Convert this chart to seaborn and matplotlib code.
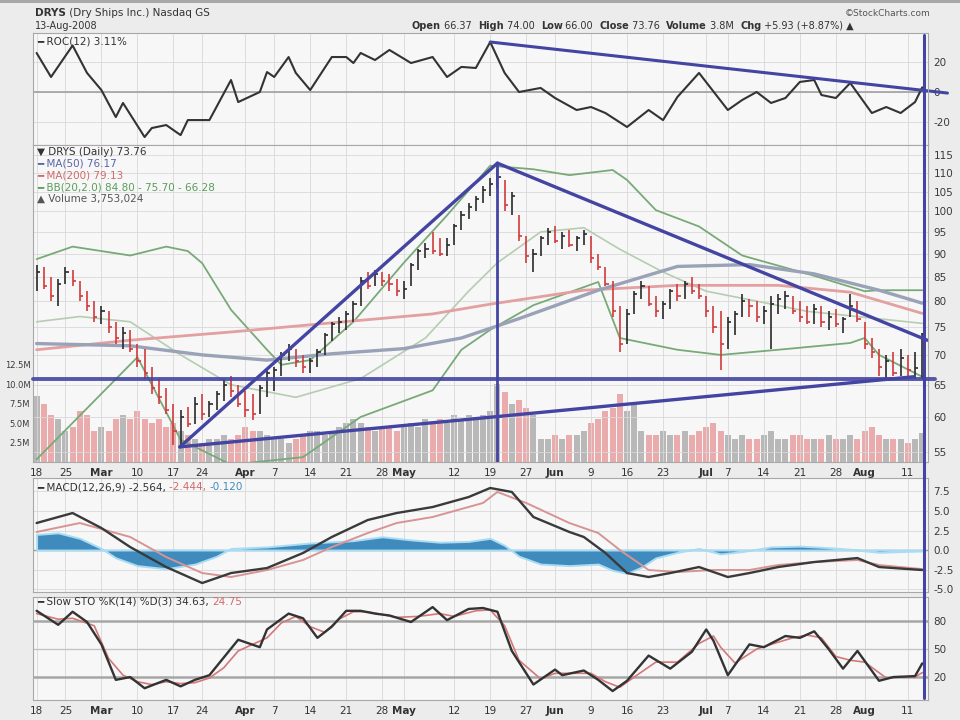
import matplotlib

matplotlib.use("Agg")
import matplotlib.pyplot as plt
import matplotlib.transforms as mtransforms
from matplotlib.lines import Line2D
import numpy as np
import pandas as pd
import seaborn as sns

sns.set_theme(style="white")
plt.rcParams["font.family"] = ["DejaVu Sans"]

W, H = 960, 720
LEFT, RIGHT = 33, 928

# trading days on the chart, 19-Feb-2008 .. 13-Aug-2008
HOLIDAYS = ["2008-03-21", "2008-05-26", "2008-07-04"]
days = pd.bdate_range("2008-02-19", "2008-08-13")
days = days[~days.isin(pd.to_datetime(HOLIDAYS))]

TICK_DATES = ["2008-02-19", "2008-02-25", "2008-03-03", "2008-03-10", "2008-03-17",
              "2008-03-24", "2008-04-01", "2008-04-07", "2008-04-14", "2008-04-21",
              "2008-04-28", "2008-05-01", "2008-05-12", "2008-05-19", "2008-05-27",
              "2008-06-02", "2008-06-09", "2008-06-16", "2008-06-23", "2008-07-01",
              "2008-07-07", "2008-07-14", "2008-07-21", "2008-07-28", "2008-08-01",
              "2008-08-11"]
TICK_TEXT = ["18", "25", "Mar", "10", "17", "24", "Apr", "7", "14", "21", "28", "May",
             "12", "19", "27", "Jun", "9", "16", "23", "Jul", "7", "14", "21", "28",
             "Aug", "11"]

# daily bars
HIGH = [87.5, 87, 85, 84.5, 87, 86.5, 84, 82, 80, 79,
        78, 76, 75, 74.5, 72, 71, 68, 66, 64.5, 62,
        61, 61.5, 63, 63.5, 62.5, 64, 66, 66.5, 65, 64,
        63.5, 65, 67.5, 68, 70.5, 72, 71, 70, 69.5, 71,
        74, 76, 77, 78, 80, 85, 86, 86.5, 86, 85.5,
        84.5, 84, 88, 91, 92.5, 95, 93.5, 93.5, 97, 100,
        102, 104, 106.5, 108.5, 111, 108, 105, 99, 94, 91,
        94, 96, 96.5, 95, 95.5, 94, 95.5, 94, 90, 87,
        84, 79, 78.5, 82, 84, 83, 81, 80, 82.5, 83.5,
        84, 85, 83.5, 81, 79, 78, 77, 78, 81.5, 80.5,
        80, 79, 81, 81.5, 82, 81, 80, 79, 79.5, 79,
        78, 78.5, 77, 81.5, 80, 76, 73, 71, 70, 70.5,
        71, 70, 70.5, 74]
LOW = [82, 82.5, 80, 79, 83.5, 83, 80, 78, 76, 75.5,
       74, 72, 71, 70.5, 68, 66, 63.5, 62, 60.5, 56,
       56, 58.5, 59, 59.5, 60, 61, 62.5, 63, 61.5, 60,
       59.5, 60.5, 63, 64, 66.5, 69, 68, 67, 67, 68,
       70, 72.5, 74, 74.5, 76, 79, 82.5, 83, 83, 82,
       81, 80.5, 83, 86.5, 89, 90, 89.5, 89.5, 92, 95.5,
       98, 100, 102, 104, 106, 100, 99, 93, 88, 86,
       89.5, 92, 92.5, 91, 91.5, 90.5, 92, 88, 86.5, 83,
       77, 70.5, 72, 77.5, 80.5, 79, 77, 76.5, 78.5, 80,
       80.5, 81.5, 80.5, 77, 74, 67.5, 71, 73.5, 77, 77,
       76, 75.5, 71, 77.5, 78.5, 77.5, 76, 75.5, 75.5, 75,
       74.5, 75, 74, 77, 76, 71, 69.5, 66.5, 66, 66.5,
       66.5, 66, 66, 66]
CLOSE = [86, 83, 81, 83.5, 86, 84, 81, 79, 77, 78,
         75, 73, 74, 71, 69, 67, 64.5, 63, 61, 58,
         60, 59, 62, 60.5, 62, 63.5, 65, 64, 62, 61,
         60.5, 64.5, 67, 67.5, 70, 71, 69, 68, 69, 70.5,
         73.5, 75.5, 76, 77.5, 79.5, 84, 83, 85.5, 84, 83.5,
         82, 82.5, 87.5, 90.5, 91, 90.5, 90, 92, 96.5, 99,
         101, 103, 105.5, 107, 109, 101.5, 104, 94, 89.5, 90,
         93.5, 95, 93, 94, 92, 93.5, 94.5, 89, 87, 83.5,
         78, 72, 77.5, 81.5, 83, 79.5, 78, 79.5, 82, 81,
         83.5, 82, 81, 78, 75, 72, 76, 77.5, 80, 79,
         77, 78, 79.5, 80.5, 81, 78, 77, 76, 78.5, 76,
         77, 75.5, 76.5, 79, 76.5, 72, 70.5, 68, 69, 67,
         69.5, 67.5, 67.83, 73.76]
VOLUME_M = [8.5, 7.5, 6, 5.5, 4, 4.5, 6.5, 6, 4, 4.5,
            4, 5.5, 6, 5.5, 6.5, 5.5, 5, 5.5, 4.5, 5,
            4, 3.5, 3, 2.5, 3, 3, 3.5, 3, 3.5, 4.5,
            4, 4, 3.5, 3, 3, 2.5, 3, 3.5, 4, 4,
            3.5, 4, 4.5, 5, 5.5, 5, 4.5, 4, 4.5, 4.5,
            4, 4.5, 5, 4.5, 5.5, 5, 5.5, 5, 6, 5.5,
            6, 5.5, 6, 6.5, 10, 9, 7.5, 8, 7, 6,
            3, 3, 3.5, 3, 3.5, 3.5, 4, 5, 5.5, 6.5,
            7, 8.7, 6.5, 7.5, 4, 3.5, 3.5, 4, 3.5, 3.5,
            4, 3.5, 4, 4.5, 5, 4, 3.5, 3, 3.5, 3,
            3, 3.5, 4, 3, 3, 3.5, 3.5, 3, 3, 3,
            3.5, 3, 3, 3.5, 3, 4, 4.5, 3.5, 3, 3,
            3, 2.5, 3, 3.75]

# price overlays (day index, price)
MA50_DAY = [0, 13, 23, 32, 41, 51, 59, 67, 78, 89, 99, 108, 117, 123]
MA50 = [72.0, 71.6, 70.0, 69.1, 70.2, 71.1, 73.0, 76.6, 82.2, 87.2, 87.6, 85.6, 82.2, 79.6]
MA200_DAY = [0, 13, 27, 41, 55, 63, 76, 89, 103, 113, 123]
MA200 = [70.9, 72.6, 74.1, 75.8, 77.5, 79.4, 82.2, 83.2, 83.2, 81.8, 77.6]
BB_UP_DAY = [0, 5, 13, 18, 21, 23, 27, 32, 34, 38, 44, 51, 57, 63, 69, 74, 80, 82, 86, 92,
             98, 108, 115, 117, 123]
BB_UP = [88.8, 91.6, 89.6, 91.6, 90.6, 87.9, 78.3, 70.9, 68.3, 69.1, 76, 88, 99, 112, 111,
         109.4, 110.8, 108.1, 100.3, 96.3, 89.6, 85.2, 82.0, 82.2, 82.2]
BB_MID_DAY = [0, 6, 13, 20, 27, 36, 45, 54, 60, 64, 70, 76, 81, 87, 93, 100, 107, 114, 123]
BB_MID = [76, 77, 76, 70, 65, 63, 66, 73, 82, 88, 95, 96, 91, 86, 82, 80, 78, 77, 75.7]
BB_LOW_DAY = [0, 14, 20, 27, 37, 45, 55, 59, 63, 69, 78, 81, 89, 95, 103, 113, 115, 117, 123]
BB_LOW = [54.0, 69.6, 56.7, 53.3, 54.3, 60.0, 64.1, 70.9, 74.5, 79.2, 83.9, 73.0, 70.9, 70.0,
          70.9, 72.1, 73.0, 70.0, 66.3]

# hand-drawn trend lines (day index, price)
TREND_DAYS = [(19.9, 64.0), (64.0, 123.7), (19.9, 121.8)]
TREND_PRICES = [(55.7, 112.7), (112.7, 72.6), (55.7, 66.3)]
SUPPORT_DAYS = (-0.5, 124.8)
SUPPORT_PRICE = 66.0
PEAK_DAY, PEAK_PRICE = 64.0, 112.7
TODAY_X = 123.3

# ROC(12)
ROC_DAY = [0, 2, 5, 7, 9, 11, 12, 15, 16, 18, 20, 21, 24, 27, 28, 31, 32, 33, 35, 36,
           38, 41, 43, 44, 45, 47, 49, 52, 55, 57, 59, 61, 63, 65, 67, 70, 72, 75, 77, 79,
           82, 85, 87, 89, 92, 96, 98, 100, 102, 104, 106, 108, 109, 111, 113, 116, 118,
           120, 122, 123]
ROC_VAL = [26, 10, 31, 12.7, 1.3, -16.7, -7.3, -30, -24, -22, -28.7, -18.7, -18.7, 8, -6.7,
           0, 13.3, 10, 23.3, 12.7, 1.3, 23.3, 23.3, 19.3, 26, 21.3, 28, 19.3, 23.3, 10,
           16.7, 16, 33.3, 12.7, 0, 2.7, -4, -12, -10, -14, -23.3, -12, -18.7, -3.3, 12.7,
           -12, -5.3, 0, -7.3, -4, 6.7, 8, -2, -4, 6, -14, -10, -14, -6.7, 3.11]
ROC_TREND_DAY = [63.0, 126.5]
ROC_TREND_VAL = [33.3, -0.7]

# MACD(12,26,9)
MACD_DAY = [0, 5, 9, 13, 18, 23, 27, 32, 37, 41, 46, 50, 55, 60, 63, 66, 69, 74, 76, 79,
            82, 85, 88, 92, 96, 99, 103, 108, 114, 117, 123]
MACD_VAL = [3.46, 4.74, 2.82, 0.38, -2.18, -4.23, -2.95, -2.31, -0.38, 1.67, 3.85, 4.74,
            5.51, 6.79, 7.95, 7.44, 4.23, 2.31, 1.67, -0.38, -2.95, -3.46, -2.95, -2.18,
            -3.46, -2.95, -2.18, -1.54, -1.03, -2.18, -2.564]
SIGNAL_DAY = [0, 6, 13, 18, 23, 27, 32, 37, 41, 46, 50, 55, 62, 64, 68, 74, 78, 81, 85, 89,
              94, 99, 103, 108, 114, 117, 123]
SIGNAL_VAL = [2.31, 3.46, 1.67, -0.9, -2.95, -3.46, -2.56, -1.28, 0.38, 2.18, 3.46, 4.23,
              6.03, 7.44, 6.03, 3.46, 2.18, 0, -2.56, -2.82, -2.56, -2.56, -1.92, -1.54,
              -1.28, -1.92, -2.444]
HIST_DAY = [0, 3, 6, 9, 11, 14, 18, 22, 25, 27, 32, 38, 44, 48, 52, 56, 60, 63, 65, 67,
            70, 74, 78, 80, 82, 84, 86, 89, 92, 95, 98, 102, 106, 110, 113, 117, 120, 123]
HIST_VAL = [2.0, 2.2, 1.5, 0.2, -1.0, -2.0, -2.4, -1.8, -0.8, 0.2, 0.4, 0.9, 1.2, 1.7, 1.3,
            1.0, 1.1, 1.5, 0.6, -0.8, -1.8, -2.0, -1.8, -2.6, -3.0, -2.2, -1.0, -0.3, 0.2,
            -0.5, -0.2, 0.4, 0.5, 0.3, 0.1, -0.3, -0.2, -0.12]

# Slow stochastics %K(14) %D(3)
STO_K_DAY = [0, 3, 5, 7, 9, 11, 13, 15, 17, 18, 20, 22, 24, 26, 28, 31, 32, 35, 37, 39,
             41, 43, 45, 47, 49, 52, 55, 57, 60, 62, 64, 66, 69, 72, 73, 76, 78, 80, 82, 85,
             88, 91, 93, 94, 96, 99, 101, 104, 106, 108, 110, 112, 114, 117, 119, 122, 123]
STO_K = [91, 76, 90, 79, 55, 17, 20, 8, 14, 17, 10, 17, 22, 41, 60, 52, 71, 88, 83, 62,
         74, 91, 91, 88, 86, 79, 95, 81, 93, 94, 90, 48, 12, 28, 22, 27, 17, 5, 16, 43,
         29, 47, 71, 59, 22, 55, 52, 64, 62, 69, 50, 29, 48, 16, 20, 21, 34.63]
STO_D_DAY = [0, 3, 5, 8, 10, 12, 14, 16, 18, 20, 22, 24, 26, 28, 30, 32, 34, 36, 38, 40,
             42, 44, 46, 48, 50, 53, 56, 58, 61, 63, 65, 67, 70, 72, 74, 77, 79, 81, 83, 86,
             89, 92, 94, 95, 97, 100, 102, 105, 107, 109, 111, 113, 115, 118, 120, 122, 123]
STO_D = [88, 82, 83, 75, 40, 22, 15, 12, 15, 13, 14, 19, 30, 48, 55, 62, 78, 85, 74, 68,
         82, 90, 90, 87, 84, 85, 88, 85, 91, 92, 75, 38, 18, 24, 24, 24, 15, 9, 20, 36,
         36, 56, 64, 52, 35, 50, 55, 62, 65, 62, 42, 38, 36, 19, 20, 20, 24.75]

FIG_BG = "#ececec"
PANEL_BG = "#f7f7f7"
GRID = "#d8d8d8"
TREND = "#4444a2"
INK = "#333333"


def panel(top, bottom):
    return fig.add_axes([LEFT / W, 1 - bottom / H, (RIGHT - LEFT) / W, (bottom - top) / H])


def chain(x, y, parts, size):
    # lay text pieces one after another on a line (pixel coords from top-left)
    renderer = fig.canvas.get_renderer()
    for s, color, weight in parts:
        t = fig.text(x / W, 1 - y / H, s, color=color, fontsize=size,
                     fontweight=weight, va="center", ha="left")
        x = t.get_window_extent(renderer).x1 * W / fig.bbox.width


fig = plt.figure(figsize=(9.6, 7.2), dpi=100)
fig.patch.set_facecolor(FIG_BG)
# thin grey strip along the top edge
fig.add_artist(plt.Rectangle((0, 1 - 3 / H), 1, 3 / H, transform=fig.transFigure,
                             facecolor="#a8a8a8", edgecolor="none"))

ax_roc = panel(33, 145)
ax_vol = panel(145, 462)
ax_price = panel(145, 462)
ax_macd = panel(478, 592)
ax_sto = panel(597, 700)

x = np.arange(len(days))
xmin, xmax = -0.5, 123.8
tick_pos = [days.get_loc(pd.Timestamp(d)) for d in TICK_DATES]

for ax in (ax_roc, ax_price, ax_macd, ax_sto):
    ax.set_facecolor(PANEL_BG)
    ax.set_xlim(xmin, xmax)
    ax.set_xticks(tick_pos)
    ax.set_xticklabels([])
    ax.yaxis.tick_right()
    ax.tick_params(length=0, labelsize=7.5, labelcolor="#3a3a3a", pad=4)
    ax.grid(True, color=GRID, linewidth=0.6)
    ax.set_axisbelow(True)
    for s in ax.spines.values():
        s.set_color("#a8a8a8")
        s.set_linewidth(0.8)

# ---- ROC panel
ax_roc.set_ylim(-35.3, 39.3)
ax_roc.set_yticks([-20, 0, 20], labels=["-20", "0", "20"])
ax_roc.axhline(0, color="#a0a0a0", linewidth=1.2, zorder=1)
sns.lineplot(x=ROC_DAY, y=ROC_VAL, ax=ax_roc, color=INK, linewidth=1.5, estimator=None)
ax_roc.plot(ROC_TREND_DAY, ROC_TREND_VAL, color=TREND, linewidth=2.2, clip_on=False)

# ---- volume (underneath the price panel)
ax_vol.set_facecolor(PANEL_BG)
ax_vol.set_xlim(xmin, xmax)
ax_vol.set_ylim(0, 40.8)
ax_vol.set_xticks([])
ax_vol.set_yticks([2.5, 5, 7.5, 10, 12.5], labels=["2.5M", "5.0M", "7.5M", "10.0M", "12.5M"])
ax_vol.tick_params(length=0, labelsize=6, labelcolor="#3a3a3a", pad=2)
for s in ax_vol.spines.values():
    s.set_visible(False)
down = [k > 0 and CLOSE[k] < CLOSE[k - 1] for k in range(len(CLOSE))]
vol_colors = ["#e9abab" if d else "#b8b8b8" for d in down]
ax_vol.bar(x, VOLUME_M, width=0.82, color=vol_colors, linewidth=0)

# ---- price panel
ax_price.patch.set_visible(False)
ax_price.set_yscale("log")
ax_price.set_ylim(53.65, 117.9)
price_ticks = list(range(55, 120, 5))
ax_price.set_yticks(price_ticks, labels=[str(t) for t in price_ticks])
ax_price.minorticks_off()
ax_price.set_xticks(tick_pos)
ax_price.set_xticklabels(TICK_TEXT, fontsize=7.5, color="#333333")

sns.lineplot(x=BB_MID_DAY, y=BB_MID, ax=ax_price, color="#b5cdb0", linewidth=1.2, estimator=None)
sns.lineplot(x=BB_UP_DAY, y=BB_UP, ax=ax_price, color="#78aa78", linewidth=1.3, estimator=None)
sns.lineplot(x=BB_LOW_DAY, y=BB_LOW, ax=ax_price, color="#78aa78", linewidth=1.3, estimator=None)
sns.lineplot(x=MA200_DAY, y=MA200, ax=ax_price, color="#e3a0a0", linewidth=2.0, estimator=None)
sns.lineplot(x=MA50_DAY, y=MA50, ax=ax_price, color="#9aa2b8", linewidth=2.4, estimator=None)

bar_colors = ["#d23a3a" if d else "#2a2a2a" for d in down]
ax_price.vlines(x, LOW, HIGH, colors=bar_colors, linewidth=1.2, zorder=3)
ax_price.hlines(CLOSE, x, x + 0.45, colors=bar_colors, linewidth=1.2, zorder=3)

for (d0, d1), (p0, p1) in zip(TREND_DAYS, TREND_PRICES):
    ax_price.plot([d0, d1], [p0, p1], color=TREND, linewidth=2.4, zorder=4, solid_capstyle="round")
ax_price.plot(SUPPORT_DAYS, [SUPPORT_PRICE, SUPPORT_PRICE], color=TREND, linewidth=2.8,
              alpha=0.9, zorder=4, clip_on=False)
ax_price.vlines(PEAK_DAY, 53.65, PEAK_PRICE, color=TREND, linewidth=2.0, zorder=4)

# ---- MACD panel
ax_macd.set_ylim(-5.38, 9.23)
ax_macd.set_yticks([-5, -2.5, 0, 2.5, 5, 7.5], labels=["-5.0", "-2.5", "0.0", "2.5", "5.0", "7.5"])
ax_macd.axhline(0, color="#9a9a9a", linewidth=1.0, zorder=1)
ax_macd.fill_between(HIST_DAY, 0, HIST_VAL, facecolor="#3f8bbd", edgecolor="#a9dcf3",
                     linewidth=1.4, zorder=2)
sns.lineplot(x=SIGNAL_DAY, y=SIGNAL_VAL, ax=ax_macd, color="#d89494", linewidth=1.4, estimator=None)
sns.lineplot(x=MACD_DAY, y=MACD_VAL, ax=ax_macd, color="#3a3a3a", linewidth=1.7, estimator=None)

# ---- stochastics panel
ax_sto.set_ylim(-4.6, 105.8)
ax_sto.set_yticks([20, 50, 80], labels=["20", "50", "80"])
ax_sto.axhline(20, color="#a6a6a6", linewidth=1.8, zorder=1)
ax_sto.axhline(80, color="#a6a6a6", linewidth=1.8, zorder=1)
ax_sto.axhline(50, color="#c4c4c4", linewidth=1.0, zorder=1)
sns.lineplot(x=STO_D_DAY, y=STO_D, ax=ax_sto, color="#d47878", linewidth=1.2, estimator=None)
sns.lineplot(x=STO_K_DAY, y=STO_K, ax=ax_sto, color="#333333", linewidth=1.7, estimator=None)
ax_sto.set_xticks(tick_pos)
ax_sto.set_xticklabels(TICK_TEXT, fontsize=7.5, color="#333333")

for ax in (ax_roc, ax_vol, ax_price, ax_macd, ax_sto):
    ax.set_xlabel("")
    ax.set_ylabel("")
for ax in (ax_price, ax_sto):
    for lab in ax.get_xticklabels():
        if lab.get_text().isalpha():
            lab.set_fontweight("bold")

# vertical "today" line through all panels
trans = mtransforms.blended_transform_factory(ax_price.transData, fig.transFigure)
fig.add_artist(Line2D([TODAY_X, TODAY_X], [1 - 35 / H, 1 - 698 / H], transform=trans,
                      color=TREND, linewidth=2.2))

# ---- header and legends
chain(35, 13, [("DRYS", INK, "bold"), (" (Dry Ships Inc.) Nasdaq GS", INK, "normal")], 7.5)
fig.text(35 / W, 1 - 26 / H, "13-Aug-2008", fontsize=7, color=INK, va="center")
fig.text(930 / W, 1 - 13 / H, "\u00a9StockCharts.com", fontsize=6.5, color="#555555",
         va="center", ha="right")
chain(412, 26, [("Open", INK, "bold"), (" 66.37  ", INK, "normal"),
                ("High", INK, "bold"), (" 74.00  ", INK, "normal"),
                ("Low", INK, "bold"), (" 66.00  ", INK, "normal"),
                ("Close", INK, "bold"), (" 73.76  ", INK, "normal"),
                ("Volume", INK, "bold"), (" 3.8M  ", INK, "normal"),
                ("Chg", INK, "bold"), (" +5.93 (+8.87%) \u25b2", INK, "normal")], 7)

chain(37, 41, [("\u2501 ROC(12) 3.11%", INK, "normal")], 7.5)
chain(37, 152, [("\u25bc DRYS (Daily) 73.76", INK, "normal")], 7.5)
chain(37, 164, [("\u2501 MA(50) 76.17", "#5565a5", "normal")], 7.5)
chain(37, 176, [("\u2501 MA(200) 79.13", "#d06a6a", "normal")], 7.5)
chain(37, 188, [("\u2501 BB(20,2.0) 84.80 - 75.70 - 66.28", "#5a9e5a", "normal")], 7.5)
chain(37, 199, [("\u25b2 Volume 3,753,024", "#555555", "normal")], 7.5)
chain(37, 487, [("\u2501 MACD(12,26,9) -2.564, ", INK, "normal"), ("-2.444, ", "#d06a6a", "normal"),
                ("-0.120", "#3f8bbd", "normal")], 7.5)
chain(37, 602, [("\u2501 Slow STO %K(14) %D(3) 34.63, ", INK, "normal"), ("24.75", "#d06a6a", "normal")], 7.5)

fig.savefig("out.png", dpi=100, facecolor=fig.get_facecolor())
